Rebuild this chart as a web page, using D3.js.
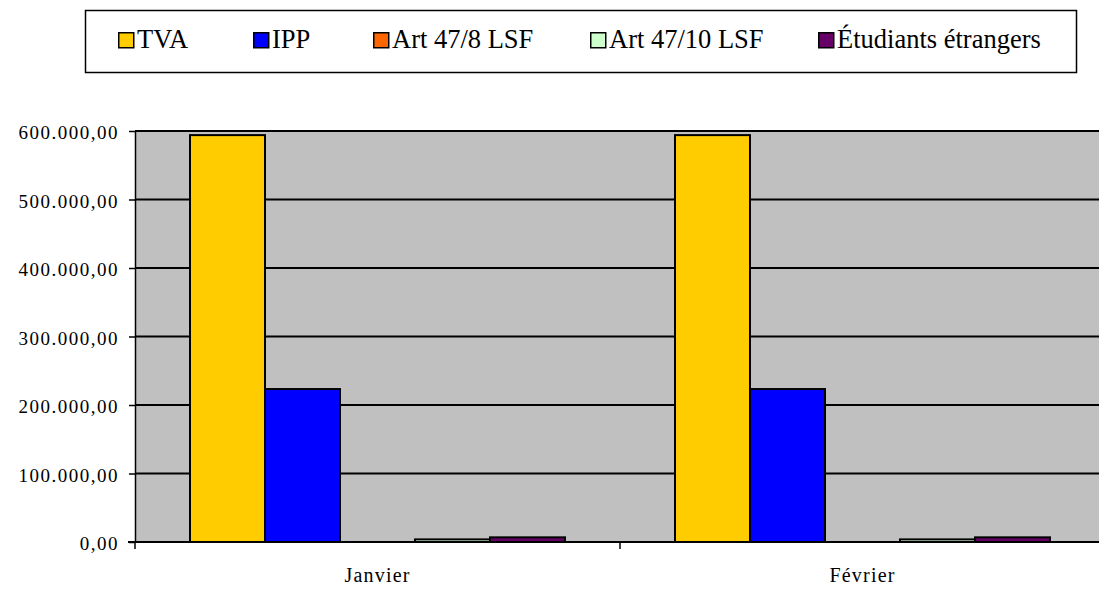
<!DOCTYPE html>
<html>
<head>
<meta charset="utf-8">
<script src="https://cdn.jsdelivr.net/npm/d3@7"></script>
</head>
<body style="margin:0">
<script>
const categories = ["Janvier", "Février"];
const seriesNames = ["TVA", "IPP", "Art 47/8 LSF", "Art 47/10 LSF", "Étudiants étrangers"];
const seriesColors = ["#FFCC00", "#0000FF", "#FF6600", "#CCFFCC", "#660066"];
const tvaValues = [594000, 594000];
const ippValues = [223300, 223300];
const art478Values = [0, 0];
const art4710Values = [3800, 3800];
const etudiantsValues = [6800, 6800];
const yTicks = [0, 100000, 200000, 300000, 400000, 500000, 600000];

const seriesValues = [tvaValues, ippValues, art478Values, art4710Values, etudiantsValues];
const SERIF = '"Liberation Serif"';

const W = 1099, H = 589;
const svg = d3.select("body").append("svg").attr("width", W).attr("height", H)
  .style("display", "block").style("font-family", SERIF, "important");

const plot = { left: 135, right: 1105, top: 131, bottom: 542 };

const fr = d3.formatLocale({ decimal: ",", thousands: ".", grouping: [3], currency: ["", ""] });
const fmt = fr.format(",.2f");

const y = d3.scaleLinear().domain([0, 600000]).range([plot.bottom, plot.top]);
const x0 = d3.scaleBand().domain(categories).range([plot.left, plot.right]).padding(0);
const x1 = d3.scaleBand().domain(seriesNames).range([0, x0.bandwidth()])
  .paddingInner(0).paddingOuter(55 / 75);

// plot background
svg.append("rect")
  .attr("x", plot.left).attr("y", plot.top)
  .attr("width", plot.right - plot.left).attr("height", plot.bottom - plot.top)
  .attr("fill", "#C0C0C0");

// gridlines
svg.append("g").selectAll("line").data(yTicks.filter(d => d > 0)).join("line")
  .attr("x1", plot.left).attr("x2", plot.right)
  .attr("y1", d => y(d)).attr("y2", d => y(d))
  .attr("stroke", "#000").attr("stroke-width", 2);

// bars
const groups = svg.append("g").selectAll("g").data(categories).join("g")
  .attr("transform", d => `translate(${x0(d)},0)`);
groups.selectAll("rect")
  .data((c, ci) => seriesNames.map((s, si) => ({ s, si, v: seriesValues[si][ci] })))
  .join("rect")
  .filter(d => d.v > 0)
  .attr("x", d => x1(d.s))
  .attr("width", x1.bandwidth())
  .attr("y", d => y(d.v))
  .attr("height", d => y(0) - y(d.v))
  .attr("fill", d => seriesColors[d.si])
  .attr("stroke", "#000").attr("stroke-width", 2);

// y axis
const yAxis = svg.append("g").attr("transform", `translate(${plot.left},0)`)
  .call(d3.axisLeft(y).tickValues(yTicks).tickFormat(fmt).tickSize(6).tickSizeOuter(0).tickPadding(10));
yAxis.attr("font-family", null).attr("font-size", null);
yAxis.select(".domain").attr("stroke", "#000").attr("stroke-width", 1.5);
yAxis.selectAll(".tick line").attr("stroke", "#000").attr("stroke-width", 1.5);
yAxis.selectAll("text")
  .attr("dy", "0.42em")
  .style("font-family", SERIF, "important").style("font-size", "19px")
  .style("letter-spacing", "1.5px").style("fill", "#000");

// x axis
const xAxis = svg.append("g").attr("transform", `translate(0,${plot.bottom})`)
  .call(d3.axisBottom(x0).tickSize(0).tickPadding(0));
xAxis.attr("font-family", null).attr("font-size", null);
xAxis.select(".domain").attr("stroke", "#000").attr("stroke-width", 2)
  .attr("d", `M${plot.left - 7},0H${plot.right}`);
xAxis.selectAll("text")
  .attr("y", 40).attr("dy", 0)
  .style("font-family", SERIF, "important").style("font-size", "20px")
  .style("letter-spacing", "1.2px").style("fill", "#000");
// category boundary ticks
const bounds = [plot.left, ...categories.slice(1).map(c => x0(c))];
svg.append("g").selectAll("line").data(bounds).join("line")
  .attr("x1", d => d).attr("x2", d => d)
  .attr("y1", plot.bottom).attr("y2", plot.bottom + 7)
  .attr("stroke", "#000").attr("stroke-width", 1.5);

// legend
const legend = svg.append("g");
legend.append("rect")
  .attr("x", 85.5).attr("y", 10.5).attr("width", 991).attr("height", 62)
  .attr("fill", "#fff").attr("stroke", "#000").attr("stroke-width", 1.5);
const legendX = [118, 253, 373, 590, 818];
const items = legend.selectAll("g.item").data(seriesNames).join("g")
  .attr("class", "item")
  .attr("transform", (d, i) => `translate(${legendX[i]},48)`);
items.append("rect")
  .attr("x", 0.75).attr("y", -15.25).attr("width", 15).attr("height", 15)
  .attr("fill", (d, i) => seriesColors[i]).attr("stroke", "#000").attr("stroke-width", 1.5);
items.append("text")
  .attr("x", 19).attr("y", 0)
  .style("font-family", SERIF, "important").style("font-size", "26.5px").style("fill", "#000")
  .text(d => d);
</script>
</body>
</html>
